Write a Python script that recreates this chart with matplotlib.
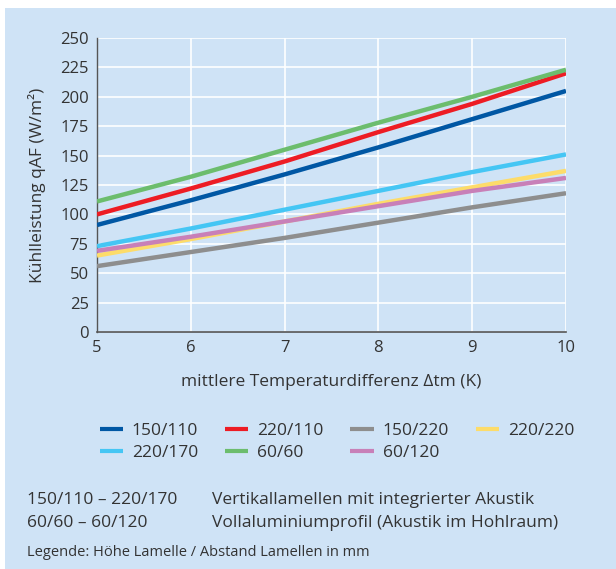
import matplotlib.pyplot as plt
from matplotlib.patches import Rectangle

plt.rcParams['font.family'] = ['Open Sans', 'DejaVu Sans']

# Temperaturdifferenz (K)
dt = [5, 6, 7, 8, 9, 10]

# Kühlleistung (W/m²) je Lamellentyp
q_150_110 = [91, 112, 134, 157, 181, 205]
q_220_110 = [100, 122, 145, 170, 194, 220]
q_150_220 = [56, 68, 80, 93, 106, 118]
q_220_220 = [65, 79, 94, 109, 123, 137]
q_220_170 = [73, 88, 104, 120, 136, 151]
q_60_60 = [111, 132, 155, 178, 200, 223]
q_60_120 = [69, 81, 94, 107, 120, 131]

bg = '#cfe3f6'
txt = '#333333'

fig = plt.figure(figsize=(6.16, 5.69), dpi=100)
fig.patch.set_facecolor('white')
fig.patches.append(Rectangle((5 / 616, 0), 1, 1 - 8 / 569, transform=fig.transFigure,
                             facecolor=bg, edgecolor='none', zorder=-10))

ax = fig.add_axes([97 / 616, 1 - 332 / 569, (566 - 97) / 616, (332 - 38) / 569])
ax.set_facecolor(bg)

# legend order (column-major fill gives the row layout of the reference)
series = [
    ('150/110', q_150_110, '#0057a4'),
    ('220/170', q_220_170, '#45c6f4'),
    ('220/110', q_220_110, '#ed1c24'),
    ('60/60', q_60_60, '#6cbd6d'),
    ('150/220', q_150_220, '#8e8e8e'),
    ('60/120', q_60_120, '#c880b8'),
    ('220/220', q_220_220, '#fddc6a'),
]
draw_order = ['220/220', '150/220', '60/120', '220/170', '150/110', '220/110', '60/60']
handles = []
for name, vals, col in series:
    z = 3 + draw_order.index(name)
    h, = ax.plot(dt, vals, color=col, lw=3.2, solid_capstyle='butt', label=name, zorder=z)
    handles.append(h)

ax.set_xlim(5, 10)
ax.set_ylim(0, 250)
ax.set_xticks(dt)
ax.set_yticks(range(0, 251, 25))
ax.grid(True, color='white', lw=1.2)
ax.set_axisbelow(True)
for s in ['top', 'right']:
    ax.spines[s].set_visible(False)
ax.spines['left'].set_color('#555555')
ax.spines['bottom'].set_color('#555555')
ax.spines['left'].set_linewidth(1.0)
ax.spines['bottom'].set_linewidth(1.2)
ax.tick_params(length=0, labelsize=12, colors=txt, pad=6)
ax.set_xlabel('mittlere Temperaturdifferenz \u0394tm (K)', fontsize=12.5, color=txt, labelpad=13)
ax.set_ylabel('Kühlleistung qAF (W/m²)', fontsize=12.5, color=txt, labelpad=10)

leg = fig.legend(handles, [n for n, _, _ in series],
                 ncol=4, loc='upper left', bbox_to_anchor=(84 / 616, 1 - 407 / 569),
                 frameon=False, fontsize=12.5, handlelength=1.35, handletextpad=0.5,
                 columnspacing=1.55, labelspacing=0.35, labelcolor=txt)
for line in leg.get_lines():
    line.set_linewidth(3)

fig.text(27 / 616, 1 - 500 / 569, '150/110 – 220/170', fontsize=12.5, color=txt, va='center')
fig.text(212 / 616, 1 - 500 / 569, 'Vertikallamellen mit integrierter Akustik', fontsize=12.5, color=txt, va='center')
fig.text(27 / 616, 1 - 523 / 569, '60/60 – 60/120', fontsize=12.5, color=txt, va='center')
fig.text(212 / 616, 1 - 523 / 569, 'Vollaluminiumprofil (Akustik im Hohlraum)', fontsize=12.5, color=txt, va='center')
fig.text(27 / 616, 1 - 553 / 569, 'Legende: Höhe Lamelle / Abstand Lamellen in mm', fontsize=10.5, color=txt, va='center')

fig.savefig('out.png', dpi=100, facecolor=fig.get_facecolor())
